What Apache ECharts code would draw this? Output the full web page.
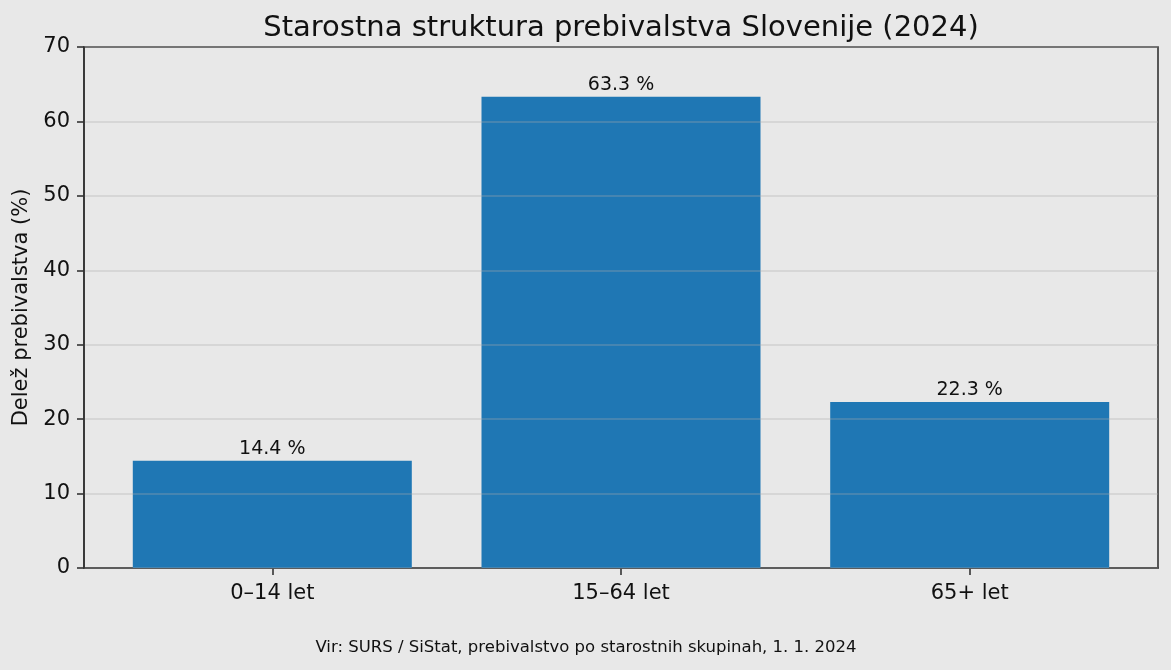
<!DOCTYPE html>
<html>
<head>
<meta charset="utf-8">
<script src="https://cdn.jsdelivr.net/npm/echarts@6/dist/echarts.min.js"></script>
<style>
	html, body { margin: 0; padding: 0; background: #e8e8e8; }
	#chart { width: 1171px; height: 670px; }
</style>
</head>
<body>
<div id="chart"></div>
<script>
var categories = ["0–14 let", "15–64 let", "65+ let"];
var shares = [14.4, 63.3, 22.3];
var yTicks = [0, 10, 20, 30, 40, 50, 60, 70];

var fontName = "DejaVu Sans";
var spineColor = "#333333";
var chart = echarts.init(document.getElementById("chart"));

var barData = [];
for (var i = 0; i < shares.length; i++) {
	barData.push([i, shares[i]]);
}
var xPositions = categories.map(function(c, i) { return i; });

chart.setOption({
	backgroundColor: "#e8e8e8",
	animation: false,
	textStyle: { fontFamily: fontName },
	title: [{
		text: "Starostna struktura prebivalstva Slovenije (2024)",
		left: 616,
		top: 9,
		textAlign: "center",
		textStyle: { fontFamily: fontName, fontSize: 29, fontWeight: "normal", color: "#111" }
	}, {
		text: "Vir: SURS / SiStat, prebivalstvo po starostnih skupinah, 1. 1. 2024",
		left: 581,
		top: 634,
		textAlign: "center",
		textStyle: { fontFamily: fontName, fontSize: 16.5, fontWeight: "normal", color: "#111" }
	}],
	grid: {
		left: 84, right: 13, top: 47, bottom: 102,
		show: true,
		borderColor: spineColor,
		borderWidth: 1.6,
		backgroundColor: "transparent"
	},
	xAxis: {
		type: "value",
		min: -0.54,
		max: 2.54,
		splitLine: { show: false },
		axisLine: { show: true, onZero: false, lineStyle: { color: spineColor, width: 1.6 } },
		axisTick: { show: true, customValues: xPositions, length: 7, lineStyle: { color: spineColor, width: 1.6 } },
		axisLabel: {
			customValues: xPositions,
			formatter: function(v) { return categories[Math.round(v)]; },
			fontSize: 21, color: "#111", margin: 15
		}
	},
	yAxis: {
		type: "value",
		min: yTicks[0],
		max: yTicks[yTicks.length - 1],
		interval: 10,
		z: 5,
		name: "Delež prebivalstva (%)",
		nameLocation: "middle",
		nameGap: 47,
		nameTextStyle: { fontSize: 21, color: "#111" },
		axisLine: { show: true, onZero: false, lineStyle: { color: spineColor, width: 1.6 } },
		axisTick: { show: true, length: 7, lineStyle: { color: spineColor, width: 1.6 } },
		axisLabel: { fontSize: 21, color: "#111", margin: 14, padding: [4, 0, 0, 0] },
		splitLine: { show: true, lineStyle: { color: "rgba(170,170,170,0.38)", width: 1.6 } }
	},
	series: [{
		type: "bar",
		data: barData,
		barWidth: 279,
		itemStyle: { color: "#1f77b4" },
		label: {
			show: true,
			position: "top",
			distance: 2,
			fontSize: 19,
			color: "#111",
			formatter: function(p) { return p.value[1].toFixed(1) + " %"; }
		}
	}]
});
</script>
</body>
</html>
